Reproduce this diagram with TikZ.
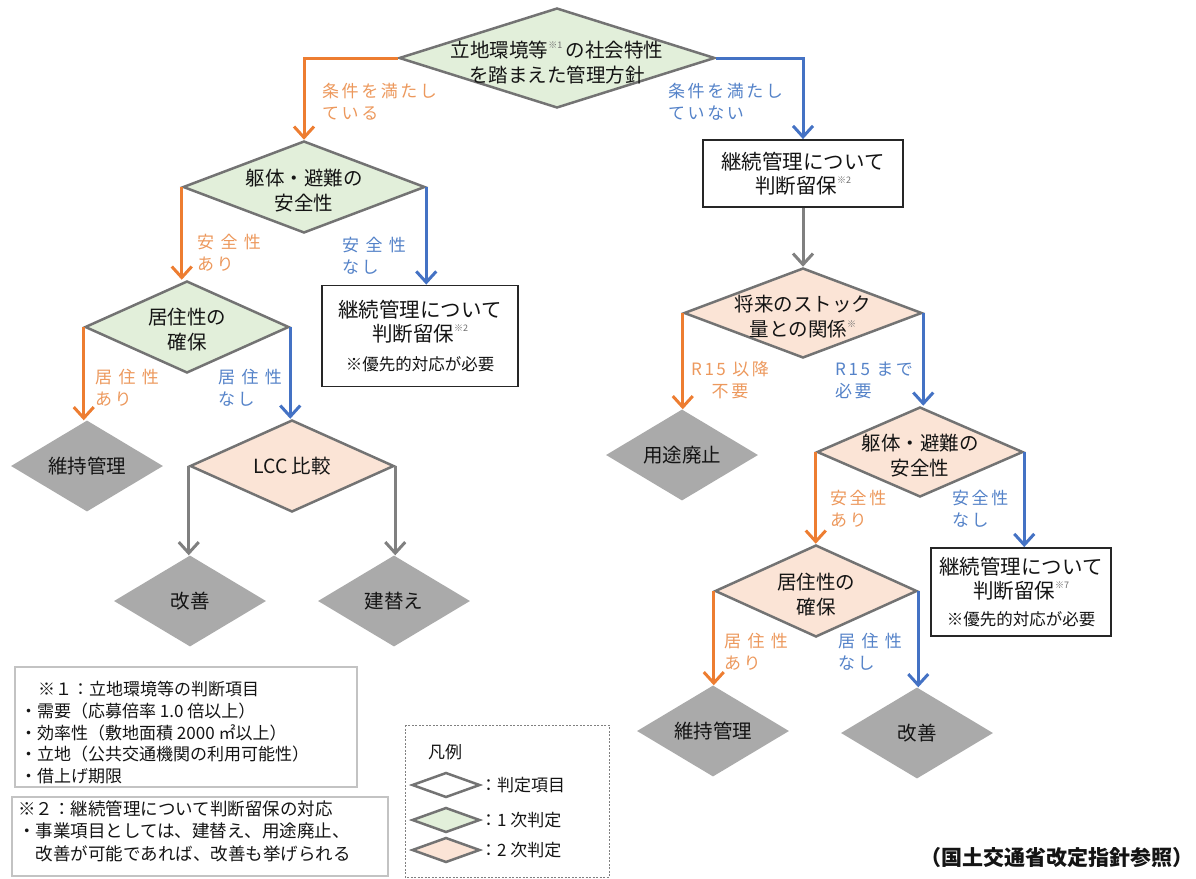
\documentclass[tikz,border=0pt]{standalone}
\usepackage{fontspec}
\setmainfont{Noto Sans CJK JP}
\newfontfamily\lblfont[LetterSpace=15]{Noto Sans CJK JP}
\usetikzlibrary{shapes.geometric,arrows.meta}
\definecolor{gfill}{RGB}{226,239,218}
\definecolor{pfill}{RGB}{251,228,214}
\definecolor{dborder}{RGB}{115,115,115}
\definecolor{rgray}{RGB}{170,170,170}
\definecolor{aor}{RGB}{237,125,49}
\definecolor{abl}{RGB}{68,114,196}
\definecolor{agr}{RGB}{128,128,128}
\definecolor{tor}{RGB}{236,152,92}
\definecolor{tbl}{RGB}{84,130,200}
\definecolor{supc}{RGB}{110,110,110}
\definecolor{notec}{RGB}{195,195,195}
\definecolor{txtc}{RGB}{20,20,20}
\newcommand\smark[1]{\raisebox{0.5em}{\fontsize{9}{9}\selectfont\color{supc}#1}}
\tikzset{
 dia/.style={diamond, draw=dborder, line width=2.5pt, inner sep=0pt},
 resd/.style={diamond, fill=rgray, inner sep=0pt, minimum width=152pt, minimum height=91pt},
 dtext/.style={align=center, inner sep=0pt, font=\fontsize{19.5}{25}\selectfont, text=txtc},
 lab/.style={align=left, inner sep=0pt, anchor=west, font=\lblfont\fontsize{17}{22}\selectfont},
 labo/.style={lab, text=tor},
 labb/.style={lab, text=tbl},
 boxst/.style={draw=black!85, line width=1.8pt, fill=white, inner sep=0pt, align=center, text=txtc, font=\fontsize{20.5}{24}\selectfont},
 tipst/.style={-{Straight Barb[length=11pt,width=20pt]}},
 arro/.style={draw=aor, line width=3pt, tipst},
 arrb/.style={draw=abl, line width=3pt, tipst},
 arrg/.style={draw=agr, line width=3pt, tipst},
 notetext/.style={anchor=north west, align=left, inner sep=0pt, text=txtc},
 legd/.style={diamond, draw=dborder, line width=2.5pt, inner sep=0pt, minimum width=68pt, minimum height=25pt},
}
\begin{document}
\begin{tikzpicture}[x=1pt,y=-1pt]
\useasboundingbox (0,0) rectangle (1196,878);

% ---------- top ----------
\node[dia, fill=gfill, minimum width=316pt, minimum height=100pt] (d0) at (557,58) {};
\node[dtext] (d0t) at (557,63) {立地環境等\smark{※1}\,の社会特性\\を踏まえた管理方針};

% ---------- left branch ----------
\node[dia, fill=gfill, minimum width=242pt, minimum height=92pt] (d1) at (304,187) {};
\node[dtext] (d1t) at (304,191) {躯体・避難の\\安全性};

\node[boxst, minimum width=196pt, minimum height=101pt] (bL) at (420,336) {継続管理について\\判断留保\smark{※2}\\[5pt]{\fontsize{16.5}{20}\selectfont ※優先的対応が必要}};

\node[dia, fill=gfill, minimum width=204pt, minimum height=92pt] (d5) at (187,327) {};
\node[dtext] (d5t) at (187,330) {居住性の\\確保};

\node[resd] (g1L) at (87,466) {};
\node[dtext] (g1Lt) at (87,466) {維持管理};

\node[dia, fill=pfill, minimum width=204pt, minimum height=92pt] (lcc) at (292,466) {};
\node[dtext] (lcct) at (292,466) {LCC 比較};

\node[resd] (g2L) at (190,601) {};
\node[dtext] (g2Lt) at (190,601) {改善};
\node[resd] (g3L) at (394,601) {};
\node[dtext] (g3Lt) at (394,601) {建替え};

% ---------- right branch ----------
\node[boxst, minimum width=200pt, minimum height=67pt] (bR1) at (803,173.5) {継続管理について\\判断留保\smark{※2}};

\node[dia, fill=pfill, minimum width=238pt, minimum height=90pt] (d2) at (803,313) {};
\node[dtext] (d2t) at (803,317) {将来のストック\\量との関係\smark{※}};

\node[resd] (gR1) at (682,455) {};
\node[dtext] (gR1t) at (682,455) {用途廃止};

\node[dia, fill=pfill, minimum width=206pt, minimum height=90pt] (d3) at (920,452) {};
\node[dtext] (d3t) at (920,456) {躯体・避難の\\安全性};

\node[boxst, minimum width=180pt, minimum height=88pt] (bR2) at (1021,592) {継続管理について\\判断留保\smark{※7}\\[3pt]{\fontsize{16.5}{20}\selectfont ※優先的対応が必要}};

\node[dia, fill=pfill, minimum width=202pt, minimum height=92pt] (d4) at (816,591) {};
\node[dtext] (d4t) at (816,595) {居住性の\\確保};

\node[resd] (gR2) at (713,731) {};
\node[dtext] (gR2t) at (713,731) {維持管理};
\node[resd] (gR3) at (917,733) {};
\node[dtext] (gR3t) at (917,733) {改善};

% ---------- connectors ----------
\draw[arro] (d0.west) -| (d1.north);
\draw[arrb] (d0.east) -| (bR1.north);
\draw[arro] (d1.west) -- (d1.west |- d5.north);
\draw[arrb] (d1.east) -- (d1.east |- bL.north);
\draw[arro] (d5.west) -- (d5.west |- g1L.north);
\draw[arrb] (d5.east) -- (d5.east |- lcc.north);
\draw[arrg] (lcc.west) -- (lcc.west |- g2L.north);
\draw[arrg] (lcc.east) -- (lcc.east |- g3L.north);
\draw[arrg] (bR1.south) -- (d2.north);
\draw[arro] (d2.west) -- (d2.west |- gR1.north);
\draw[arrb] (d2.east) -- (d2.east |- d3.north);
\draw[arro] (d3.west) -- (d3.west |- d4.north);
\draw[arrb] (d3.east) -- (d3.east |- bR2.north);
\draw[arro] (d4.west) -- (d4.west |- gR2.north);
\draw[arrb] (d4.east) -- (d4.east |- gR3.north);

% ---------- edge labels ----------
\node[labo] (l1) at (322,102) {条件を満たし\\ている};
\node[labb] (l2) at (668,102) {条件を満たし\\ていない};
\node[labo] (l3) at (197,253) {安 全 性\\あり};
\node[labb] (l4) at (342,256) {安 全 性\\なし};
\node[labo] (l5) at (95,388) {居 住 性\\あり};
\node[labb] (l6) at (218,388) {居 住 性\\なし};
\node[labo, align=center, anchor=center] (l7) at (730,380) {R15 以降\\不要};
\node[labb] (l8) at (835,380) {R15 まで\\必要};
\node[labo] (l9) at (830,509) {安全性\\あり};
\node[labb] (l10) at (952,509) {安全性\\なし};
\node[labo] (l11) at (724,652) {居 住 性\\あり};
\node[labb] (l12) at (838,652) {居 住 性\\なし};

% ---------- notes ----------
\draw[notec, line width=1.5pt] (15,667) rectangle (357,787);
\node[notetext, font=\fontsize{17}{21.8}\selectfont] (n1) at (20,681) {\hspace*{18pt}※１：立地環境等の判断項目\\・需要（応募倍率 1.0 倍以上）\\・効率性（敷地面積 2000 ㎡以上）\\・立地（公共交通機関の利用可能性）\\・借上げ期限};

\draw[notec, line width=1.5pt] (12,797) rectangle (388,876);
\node[notetext, font=\fontsize{17.5}{22.5}\selectfont] (n2) at (18,800) {※２：継続管理について判断留保の対応\\・事業項目としては、建替え、用途廃止、\\\hspace*{17.5pt}改善が可能であれば、改善も挙げられる};

% ---------- legend ----------
\draw[agr, line width=1pt, dash pattern=on 2pt off 1.5pt] (405,725) rectangle (609,877);
\node[anchor=west, inner sep=0pt, font=\fontsize{17}{20}\selectfont, text=txtc] (lg0) at (428,752) {凡例};
\node[legd, fill=white] (lgd1) at (446,785) {};
\node[legd, fill=gfill] (lgd2) at (446,820) {};
\node[legd, fill=pfill] (lgd3) at (446,850) {};
\node[anchor=west, inner sep=0pt, font=\fontsize{17}{20}\selectfont, text=txtc] (lg1) at (480,785) {：判定項目};
\node[anchor=west, inner sep=0pt, font=\fontsize{17}{20}\selectfont, text=txtc] (lg2) at (480,820) {：1 次判定};
\node[anchor=west, inner sep=0pt, font=\fontsize{17}{20}\selectfont, text=txtc] (lg3) at (480,850) {：2 次判定};

% ---------- source ----------
\node[anchor=east, inner sep=0pt, font=\bfseries\fontsize{21}{24}\selectfont, text=txtc] (src) at (1194,858) {（国土交通省改定指針参照）};
\end{tikzpicture}
\end{document}
